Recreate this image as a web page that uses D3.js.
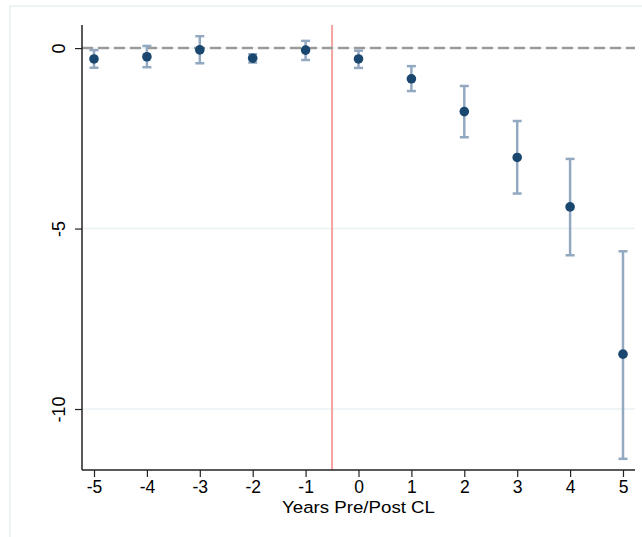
<!DOCTYPE html>
<html><head><meta charset="utf-8">
<script src="https://cdn.jsdelivr.net/npm/d3@7"></script>
<style>body{margin:0;background:#fff}svg{display:block}</style>
</head><body>
<script>
const years = [-5,-4,-3,-2,-1,0,1,2,3,4,5];
const estimates = [-0.30,-0.24,-0.05,-0.28,-0.055,-0.30,-0.85,-1.76,-3.03,-4.40,-8.48];
const ciLow = [-0.545,-0.53,-0.42,-0.40,-0.33,-0.55,-1.19,-2.47,-4.03,-5.74,-11.38];
const ciHigh = [-0.055,0.06,0.33,-0.17,0.2,-0.07,-0.50,-1.05,-2.02,-3.07,-5.63];
const xTicks = [-5,-4,-3,-2,-1,0,1,2,3,4,5];
const yTicks = [0,-5,-10];
const xTitle = "Years Pre/Post CL";

const W = 642, H = 537;
const FONT = "Liberation Sans, Arial, sans-serif";
const svg = d3.select("body").append("svg").attr("width", W).attr("height", H);
svg.append("rect").attr("x",10).attr("y",6).attr("width",W).attr("height",H).attr("fill","#fff").attr("stroke","#e9f0f2").attr("stroke-width",1.5);

const x = d3.scaleLinear().domain([-5.227,5.227]).range([82,635]);
const y = d3.scaleLinear().domain([0.64,-11.69]).range([25,470]);

// gridlines
svg.append("g").selectAll("line").data(yTicks).join("line")
  .attr("x1",82).attr("x2",635).attr("y1",d=>y(d)).attr("y2",d=>y(d))
  .attr("stroke","#eaf2f3").attr("stroke-width",1.5);

// red vertical
svg.append("line").attr("x1",x(-0.5)).attr("x2",x(-0.5)).attr("y1",y(0.64)).attr("y2",y(-11.69))
  .attr("stroke","#f4a3a3").attr("stroke-width",2);

// dashed zero line
svg.append("line").attr("x1",82).attr("x2",635).attr("y1",y(0)).attr("y2",y(0))
  .attr("stroke","#9b9b9b").attr("stroke-width",2.5).attr("stroke-dasharray","11,5");

// axes
const fmt = d => String(d);
const xAxis = d3.axisBottom(x).tickValues(xTicks).tickSize(7).tickSizeOuter(0).tickFormat(fmt);
const gx = svg.append("g").attr("transform",`translate(0,470)`).call(xAxis);
gx.select(".domain").attr("stroke","#222").attr("stroke-width",1.5).attr("d","M82,0H635");
gx.selectAll(".tick line").attr("stroke","#222").attr("stroke-width",1.2);
gx.selectAll(".tick text").attr("font-family",FONT).attr("font-size",17.5).attr("fill","#000").attr("dy",null).attr("y",23.3);

const yAxis = d3.axisLeft(y).tickValues(yTicks).tickSize(7).tickSizeOuter(0).tickFormat(fmt);
const gy = svg.append("g").attr("transform",`translate(82,0)`).call(yAxis);
gy.select(".domain").attr("stroke","#222").attr("stroke-width",1.5).attr("d","M0,25V470");
gy.selectAll(".tick line").attr("stroke","#222").attr("stroke-width",1.2);
gy.selectAll(".tick text").attr("font-family",FONT).attr("font-size",18).attr("fill","#000")
  .attr("x",null).attr("text-anchor","middle")
  .attr("transform","translate(-23.5,0) rotate(-90)").attr("dy","0.35em");

svg.append("text").attr("x",358.5).attr("y",512.5).attr("text-anchor","middle")
  .attr("font-family",FONT).attr("font-size",17.2).attr("fill","#000")
  .attr("textLength",153).attr("lengthAdjust","spacingAndGlyphs").text(xTitle);

// error bars
const data = years.map((yr,i)=>({yr, est:estimates[i], lo:ciLow[i], hi:ciHigh[i]}));
const eb = svg.append("g").attr("stroke","#93a9c1").attr("stroke-width",2.5);
eb.selectAll(".v").data(data).join("line").attr("x1",d=>x(d.yr)).attr("x2",d=>x(d.yr)).attr("y1",d=>y(d.lo)).attr("y2",d=>y(d.hi));
eb.selectAll(".t").data(data).join("line").attr("x1",d=>x(d.yr)-4.5).attr("x2",d=>x(d.yr)+4.5).attr("y1",d=>y(d.hi)).attr("y2",d=>y(d.hi));
eb.selectAll(".b").data(data).join("line").attr("x1",d=>x(d.yr)-4.5).attr("x2",d=>x(d.yr)+4.5).attr("y1",d=>y(d.lo)).attr("y2",d=>y(d.lo));

svg.append("g").selectAll("circle").data(data).join("circle")
  .attr("cx",d=>x(d.yr)).attr("cy",d=>y(d.est)).attr("r",4.8).attr("fill","#1a476f");
</script>
</body></html>
